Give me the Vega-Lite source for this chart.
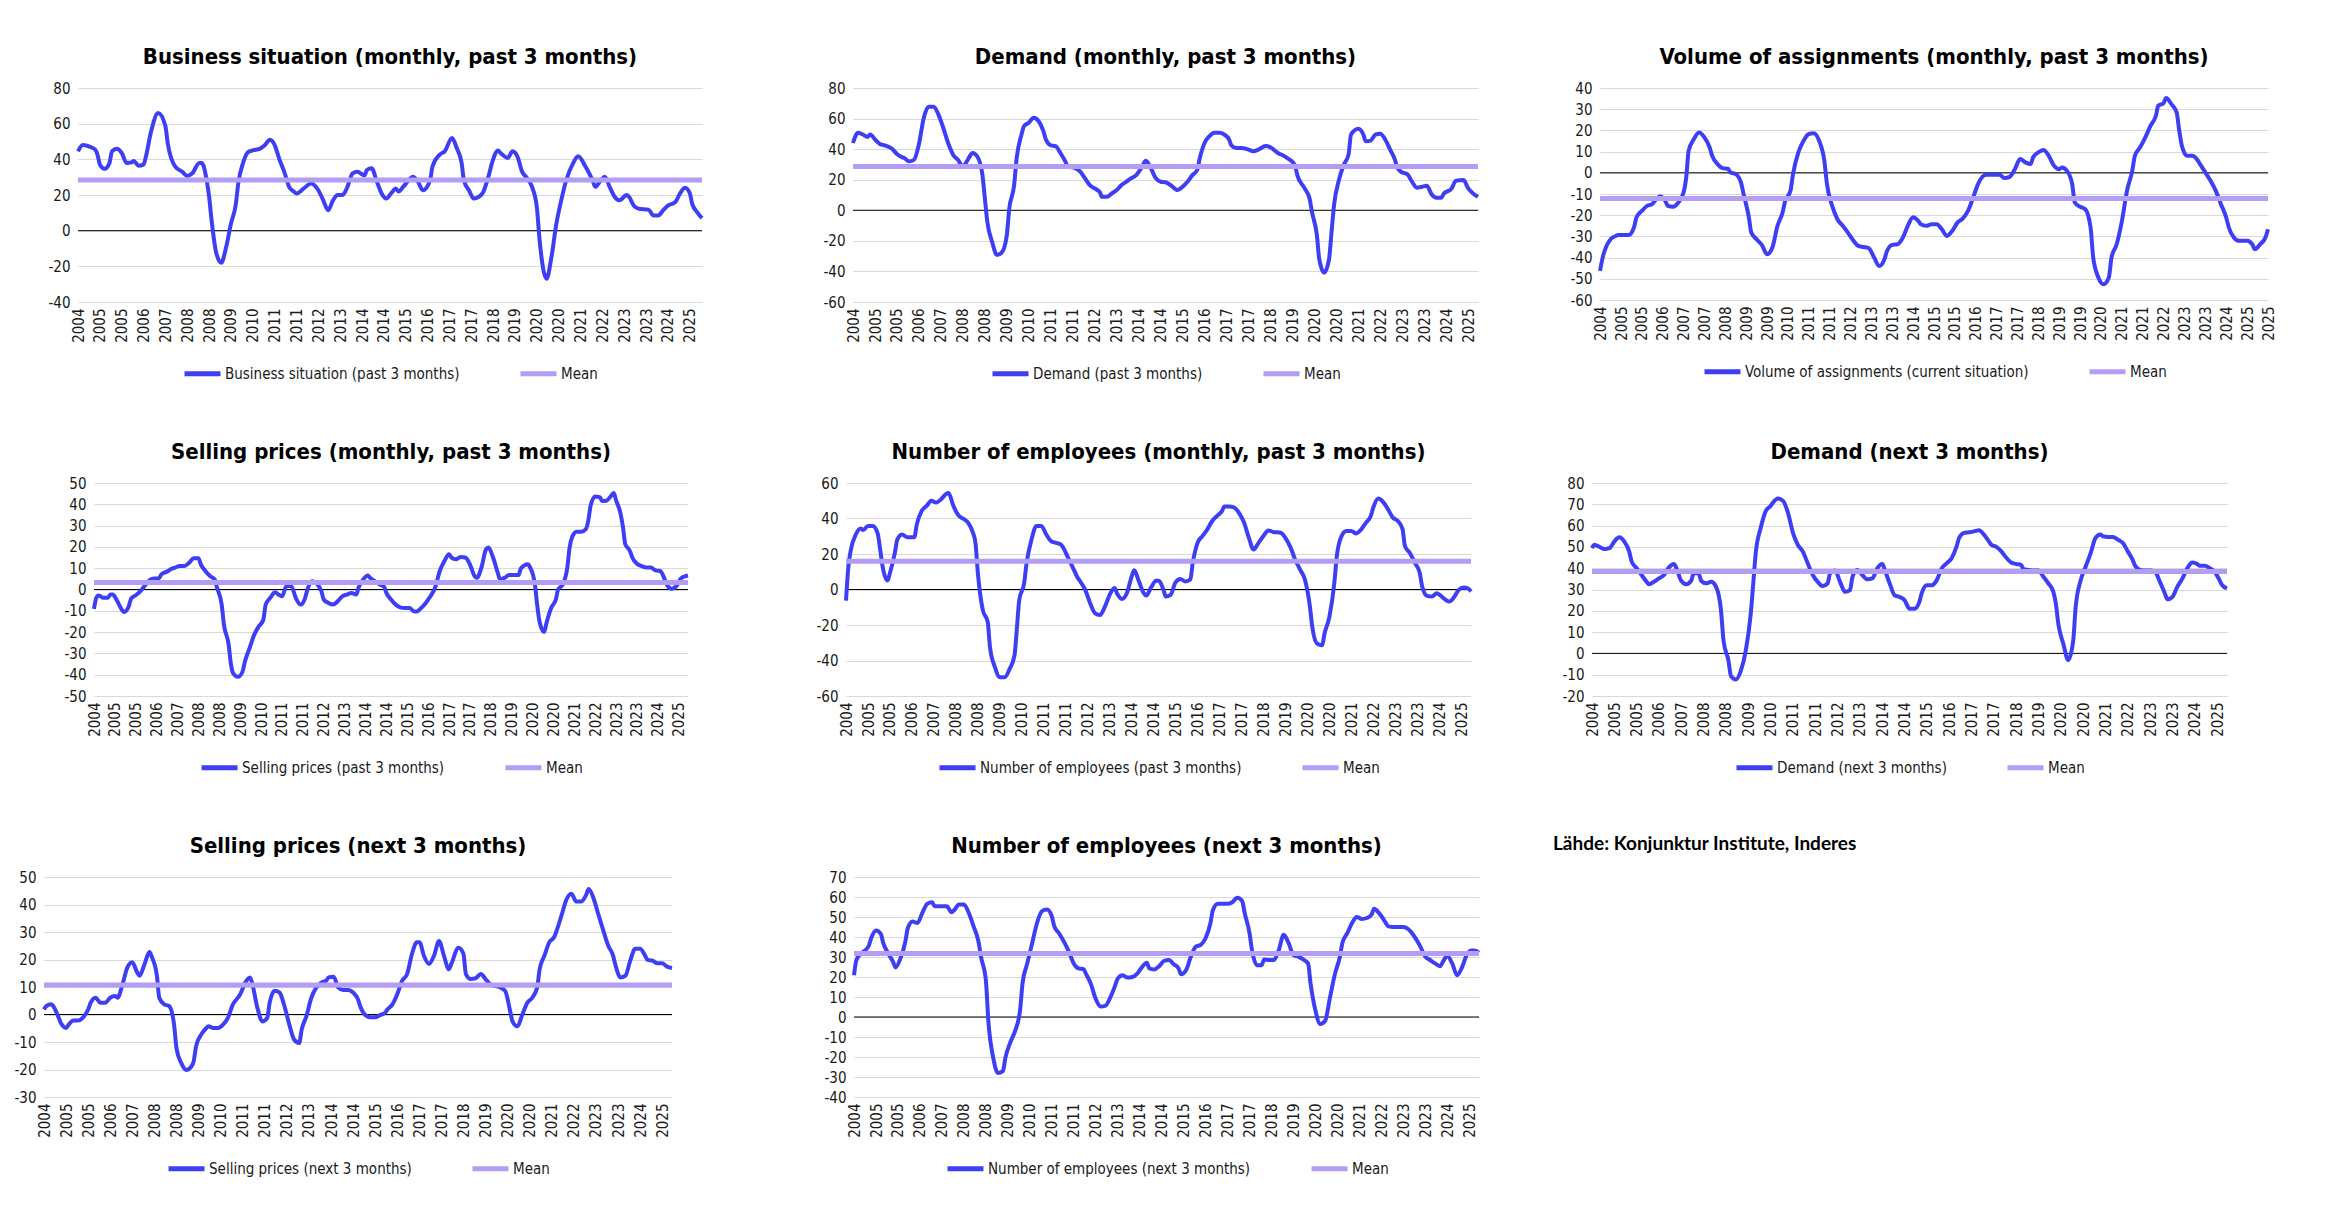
{
"$schema":"https://vega.github.io/schema/vega-lite/v6.json",
"background":"white",
"padding":{"left":5,"top":46,"right":5,"bottom":5},
"datasets":{
"means":[{"p":"bs","s":"Mean","v":28.4},{"p":"dm","s":"Mean","v":28.7},{"p":"va","s":"Mean","v":-12.1},{"p":"sp","s":"Mean","v":3.3},{"p":"ne","s":"Mean","v":15.9},{"p":"dn","s":"Mean","v":38.5},{"p":"spn","s":"Mean","v":10.7},{"p":"nen","s":"Mean","v":31.8}],
"bs":[{"d":"2004-04","v":44.5},{"d":"2004-06","v":48},{"d":"2004-09","v":47},{"d":"2004-11","v":45.5},{"d":"2004-12","v":42.7},{"d":"2005-01","v":37},{"d":"2005-03","v":34.7},{"d":"2005-05","v":38},{"d":"2005-06","v":44.5},{"d":"2005-08","v":46},{"d":"2005-10","v":43.6},{"d":"2005-12","v":38},{"d":"2006-02","v":38.3},{"d":"2006-03","v":39},{"d":"2006-05","v":36.4},{"d":"2006-07","v":37},{"d":"2006-08","v":41.7},{"d":"2006-10","v":55},{"d":"2007-01","v":66},{"d":"2007-04","v":58.8},{"d":"2007-05","v":49},{"d":"2007-08","v":36},{"d":"2007-11","v":33},{"d":"2008-01","v":30.7},{"d":"2008-03","v":32},{"d":"2008-06","v":38},{"d":"2008-07","v":38},{"d":"2008-09","v":28},{"d":"2008-10","v":19},{"d":"2008-11","v":5.7},{"d":"2009-01","v":-13},{"d":"2009-03","v":-18},{"d":"2009-05","v":-9.5},{"d":"2009-07","v":3.8},{"d":"2009-09","v":15},{"d":"2009-10","v":26.5},{"d":"2009-12","v":38},{"d":"2010-02","v":44},{"d":"2010-04","v":45},{"d":"2010-07","v":46},{"d":"2010-09","v":48},{"d":"2010-11","v":51},{"d":"2011-01","v":48},{"d":"2011-03","v":40},{"d":"2011-05","v":33},{"d":"2011-07","v":24.6},{"d":"2011-09","v":21.8},{"d":"2011-10","v":20.8},{"d":"2012-01","v":23.7},{"d":"2012-04","v":26.5},{"d":"2012-07","v":22.7},{"d":"2012-09","v":17},{"d":"2012-11","v":11.4},{"d":"2013-01","v":17},{"d":"2013-03","v":20},{"d":"2013-05","v":20},{"d":"2013-07","v":24.6},{"d":"2013-09","v":32},{"d":"2013-11","v":33},{"d":"2014-02","v":31},{"d":"2014-03","v":34},{"d":"2014-05","v":35},{"d":"2014-07","v":28},{"d":"2014-09","v":21},{"d":"2014-11","v":18},{"d":"2015-01","v":21},{"d":"2015-03","v":23.7},{"d":"2015-04","v":22},{"d":"2015-06","v":24.6},{"d":"2015-10","v":30.3},{"d":"2015-12","v":27.5},{"d":"2016-02","v":22.7},{"d":"2016-05","v":28},{"d":"2016-06","v":36},{"d":"2016-09","v":42.7},{"d":"2016-11","v":44.5},{"d":"2017-02","v":52},{"d":"2017-04","v":46.4},{"d":"2017-06","v":38},{"d":"2017-07","v":28},{"d":"2017-09","v":22.7},{"d":"2017-11","v":18},{"d":"2018-01","v":19},{"d":"2018-03","v":21.8},{"d":"2018-05","v":30},{"d":"2018-07","v":40},{"d":"2018-09","v":45},{"d":"2018-10","v":43.6},{"d":"2019-01","v":40.8},{"d":"2019-03","v":44.5},{"d":"2019-05","v":41.7},{"d":"2019-07","v":33},{"d":"2019-09","v":29.4},{"d":"2019-11","v":24.6},{"d":"2020-01","v":13},{"d":"2020-02","v":-3.8},{"d":"2020-05","v":-27},{"d":"2020-07","v":-15},{"d":"2020-09","v":3.8},{"d":"2020-11","v":17},{"d":"2021-01","v":28},{"d":"2021-04","v":38},{"d":"2021-06","v":41.7},{"d":"2021-09","v":36},{"d":"2021-12","v":28},{"d":"2022-01","v":24.6},{"d":"2022-03","v":27.5},{"d":"2022-05","v":30.3},{"d":"2022-07","v":24.6},{"d":"2022-09","v":19},{"d":"2022-11","v":17},{"d":"2023-02","v":20},{"d":"2023-03","v":19},{"d":"2023-05","v":14},{"d":"2023-07","v":12.3},{"d":"2023-11","v":11.8},{"d":"2024-01","v":8.5},{"d":"2024-03","v":8.5},{"d":"2024-05","v":11.4},{"d":"2024-07","v":14},{"d":"2024-10","v":16},{"d":"2024-12","v":21},{"d":"2025-02","v":24},{"d":"2025-04","v":21},{"d":"2025-05","v":15},{"d":"2025-07","v":10.4},{"d":"2025-09","v":7}],
"dm":[{"d":"2004-04","v":44},{"d":"2004-05","v":48.5},{"d":"2004-06","v":50.7},{"d":"2004-08","v":49.6},{"d":"2004-10","v":48},{"d":"2004-11","v":49.6},{"d":"2005-01","v":46.3},{"d":"2005-03","v":43.4},{"d":"2005-05","v":42.5},{"d":"2005-08","v":40.3},{"d":"2005-10","v":36.8},{"d":"2005-12","v":34.8},{"d":"2006-01","v":34.2},{"d":"2006-03","v":32},{"d":"2006-05","v":33},{"d":"2006-07","v":43},{"d":"2006-09","v":60.6},{"d":"2006-11","v":67.7},{"d":"2007-01","v":67.7},{"d":"2007-03","v":62.8},{"d":"2007-05","v":54},{"d":"2007-07","v":44},{"d":"2007-09","v":36.4},{"d":"2007-11","v":33},{"d":"2008-01","v":28.7},{"d":"2008-03","v":33},{"d":"2008-05","v":37.5},{"d":"2008-07","v":35},{"d":"2008-09","v":23},{"d":"2008-10","v":7.7},{"d":"2008-11","v":-7.7},{"d":"2009-01","v":-21},{"d":"2009-03","v":-29.3},{"d":"2009-05","v":-27.6},{"d":"2009-07","v":-16.5},{"d":"2009-08","v":1.1},{"d":"2009-10","v":16.5},{"d":"2009-11","v":34},{"d":"2010-01","v":49.6},{"d":"2010-02","v":55},{"d":"2010-04","v":57.3},{"d":"2010-06","v":60.6},{"d":"2010-08","v":58.4},{"d":"2010-10","v":51.8},{"d":"2010-11","v":46.3},{"d":"2011-01","v":42.5},{"d":"2011-03","v":42},{"d":"2011-05","v":37.5},{"d":"2011-07","v":32},{"d":"2011-08","v":28.7},{"d":"2011-11","v":27.6},{"d":"2012-01","v":25.4},{"d":"2012-03","v":21},{"d":"2012-05","v":16.5},{"d":"2012-07","v":14.3},{"d":"2012-09","v":12},{"d":"2012-10","v":8.8},{"d":"2012-12","v":8.8},{"d":"2013-02","v":11},{"d":"2013-04","v":13.2},{"d":"2013-06","v":16.5},{"d":"2013-08","v":18.7},{"d":"2013-10","v":21},{"d":"2013-12","v":23},{"d":"2014-02","v":27.6},{"d":"2014-04","v":32.4},{"d":"2014-06","v":27.6},{"d":"2014-08","v":21},{"d":"2014-10","v":18.7},{"d":"2014-12","v":18.3},{"d":"2015-02","v":16.5},{"d":"2015-05","v":13.2},{"d":"2015-07","v":15.4},{"d":"2015-09","v":18.7},{"d":"2015-11","v":23},{"d":"2016-01","v":26.5},{"d":"2016-02","v":34},{"d":"2016-04","v":44},{"d":"2016-06","v":48.5},{"d":"2016-08","v":50.7},{"d":"2016-10","v":50.7},{"d":"2016-12","v":49.6},{"d":"2017-02","v":46.3},{"d":"2017-03","v":42.5},{"d":"2017-05","v":40.8},{"d":"2017-07","v":40.8},{"d":"2017-10","v":39.7},{"d":"2017-12","v":38.6},{"d":"2018-02","v":39.7},{"d":"2018-05","v":42},{"d":"2018-07","v":41.2},{"d":"2018-10","v":37.5},{"d":"2018-12","v":36},{"d":"2019-02","v":34},{"d":"2019-05","v":29.8},{"d":"2019-06","v":23},{"d":"2019-09","v":14.3},{"d":"2019-11","v":7.7},{"d":"2019-12","v":-1.1},{"d":"2020-02","v":-16.5},{"d":"2020-03","v":-32},{"d":"2020-05","v":-40.8},{"d":"2020-07","v":-32},{"d":"2020-08","v":-14.3},{"d":"2020-09","v":3.3},{"d":"2020-11","v":19.8},{"d":"2021-01","v":29.8},{"d":"2021-03","v":36.4},{"d":"2021-04","v":49.6},{"d":"2021-07","v":53.4},{"d":"2021-09","v":49.6},{"d":"2021-10","v":45.2},{"d":"2021-12","v":45.6},{"d":"2022-02","v":49.6},{"d":"2022-04","v":50},{"d":"2022-06","v":46.3},{"d":"2022-08","v":39.7},{"d":"2022-10","v":33},{"d":"2022-11","v":27.6},{"d":"2023-01","v":24.7},{"d":"2023-03","v":23.8},{"d":"2023-05","v":18.7},{"d":"2023-07","v":14.8},{"d":"2023-09","v":15.4},{"d":"2023-11","v":16},{"d":"2024-01","v":10.4},{"d":"2024-03","v":8.2},{"d":"2024-05","v":8.2},{"d":"2024-06","v":11},{"d":"2024-09","v":13.9},{"d":"2024-11","v":19.4},{"d":"2025-02","v":19.8},{"d":"2025-04","v":14.3},{"d":"2025-06","v":11},{"d":"2025-08","v":8.8}],
"va":[{"d":"2004-05","v":-46.3},{"d":"2004-06","v":-40},{"d":"2004-07","v":-36},{"d":"2004-09","v":-31.3},{"d":"2004-11","v":-29.8},{"d":"2004-12","v":-29.3},{"d":"2005-02","v":-29.3},{"d":"2005-04","v":-29.3},{"d":"2005-06","v":-25.8},{"d":"2005-07","v":-21},{"d":"2005-09","v":-18},{"d":"2005-11","v":-15.6},{"d":"2006-01","v":-14.8},{"d":"2006-02","v":-13.2},{"d":"2006-04","v":-11.2},{"d":"2006-06","v":-13.2},{"d":"2006-07","v":-15.6},{"d":"2006-09","v":-16},{"d":"2006-11","v":-14},{"d":"2007-01","v":-9.3},{"d":"2007-02","v":-2.2},{"d":"2007-03","v":10.4},{"d":"2007-05","v":15.9},{"d":"2007-07","v":19},{"d":"2007-09","v":16.7},{"d":"2007-11","v":12},{"d":"2007-12","v":8},{"d":"2008-02","v":4.1},{"d":"2008-04","v":2.2},{"d":"2008-06","v":1.9},{"d":"2008-07","v":0.2},{"d":"2008-09","v":-0.6},{"d":"2008-11","v":-4.6},{"d":"2008-12","v":-10},{"d":"2009-02","v":-21},{"d":"2009-03","v":-28.2},{"d":"2009-05","v":-31.3},{"d":"2009-07","v":-34},{"d":"2009-09","v":-38.4},{"d":"2009-11","v":-35.3},{"d":"2010-01","v":-25},{"d":"2010-03","v":-18.7},{"d":"2010-04","v":-13.2},{"d":"2010-06","v":-8.5},{"d":"2010-07","v":-0.6},{"d":"2010-09","v":9.6},{"d":"2010-11","v":15.1},{"d":"2011-01","v":18.3},{"d":"2011-03","v":18.6},{"d":"2011-05","v":15.1},{"d":"2011-07","v":5.7},{"d":"2011-08","v":-5.4},{"d":"2011-10","v":-15.6},{"d":"2011-12","v":-21.9},{"d":"2012-02","v":-25},{"d":"2012-04","v":-28.2},{"d":"2012-06","v":-31.8},{"d":"2012-08","v":-34.5},{"d":"2012-10","v":-35},{"d":"2012-12","v":-35.6},{"d":"2013-02","v":-40},{"d":"2013-04","v":-44},{"d":"2013-06","v":-40.8},{"d":"2013-07","v":-36.9},{"d":"2013-09","v":-34},{"d":"2013-11","v":-33.7},{"d":"2014-01","v":-30.6},{"d":"2014-03","v":-25},{"d":"2014-05","v":-21},{"d":"2014-07","v":-22.7},{"d":"2014-08","v":-24.3},{"d":"2014-10","v":-25},{"d":"2014-12","v":-24.3},{"d":"2015-02","v":-24.3},{"d":"2015-04","v":-26.6},{"d":"2015-06","v":-29.8},{"d":"2015-08","v":-27.4},{"d":"2015-10","v":-23.5},{"d":"2015-12","v":-21.6},{"d":"2016-02","v":-18},{"d":"2016-04","v":-11.7},{"d":"2016-06","v":-5},{"d":"2016-08","v":-1.4},{"d":"2016-09","v":-0.9},{"d":"2016-12","v":-0.9},{"d":"2017-02","v":-0.9},{"d":"2017-04","v":-2.5},{"d":"2017-06","v":-1.9},{"d":"2017-08","v":1.7},{"d":"2017-10","v":6.5},{"d":"2017-12","v":4.9},{"d":"2018-02","v":4.1},{"d":"2018-03","v":7.2},{"d":"2018-05","v":9.6},{"d":"2018-07","v":10.7},{"d":"2018-09","v":8},{"d":"2018-11","v":3.3},{"d":"2019-01","v":1.7},{"d":"2019-02","v":2.5},{"d":"2019-04","v":0.9},{"d":"2019-06","v":-5.4},{"d":"2019-07","v":-14},{"d":"2019-09","v":-16},{"d":"2019-11","v":-17.2},{"d":"2020-01","v":-25.8},{"d":"2020-02","v":-40},{"d":"2020-04","v":-49.4},{"d":"2020-06","v":-52.6},{"d":"2020-08","v":-49.4},{"d":"2020-09","v":-40},{"d":"2020-11","v":-33.7},{"d":"2021-01","v":-22.7},{"d":"2021-03","v":-8.5},{"d":"2021-05","v":0.9},{"d":"2021-06","v":8},{"d":"2021-08","v":12},{"d":"2021-10","v":16.7},{"d":"2021-12","v":22.2},{"d":"2022-02","v":26.9},{"d":"2022-03","v":31.7},{"d":"2022-05","v":32.8},{"d":"2022-06","v":35.3},{"d":"2022-08","v":32.4},{"d":"2022-10","v":28.5},{"d":"2022-11","v":19.8},{"d":"2022-12","v":12.8},{"d":"2023-02","v":8},{"d":"2023-04","v":8},{"d":"2023-06","v":6},{"d":"2023-07","v":4.1},{"d":"2023-09","v":0.2},{"d":"2023-11","v":-3.8},{"d":"2024-01","v":-8.5},{"d":"2024-03","v":-14.8},{"d":"2024-05","v":-21},{"d":"2024-06","v":-25.8},{"d":"2024-08","v":-30.6},{"d":"2024-10","v":-32.1},{"d":"2025-01","v":-32.1},{"d":"2025-03","v":-33.7},{"d":"2025-04","v":-36},{"d":"2025-06","v":-33.7},{"d":"2025-08","v":-30.6},{"d":"2025-09","v":-26.6}],
"sp":[{"d":"2004-04","v":-9.1},{"d":"2004-05","v":-3.9},{"d":"2004-06","v":-2.8},{"d":"2004-08","v":-3.9},{"d":"2004-10","v":-3.9},{"d":"2004-11","v":-2.4},{"d":"2004-12","v":-2.4},{"d":"2005-02","v":-5.5},{"d":"2005-04","v":-9.5},{"d":"2005-05","v":-10.6},{"d":"2005-07","v":-7.9},{"d":"2005-08","v":-4.3},{"d":"2005-10","v":-2.7},{"d":"2005-12","v":-0.8},{"d":"2006-02","v":2},{"d":"2006-04","v":4.4},{"d":"2006-06","v":5.2},{"d":"2006-08","v":5.2},{"d":"2006-09","v":7.1},{"d":"2006-12","v":8.7},{"d":"2007-01","v":9.5},{"d":"2007-03","v":10.3},{"d":"2007-05","v":11},{"d":"2007-07","v":11},{"d":"2007-09","v":12.6},{"d":"2007-11","v":14.7},{"d":"2008-01","v":14.7},{"d":"2008-02","v":11.8},{"d":"2008-04","v":8.7},{"d":"2008-06","v":6.3},{"d":"2008-08","v":4.7},{"d":"2008-09","v":0.8},{"d":"2008-11","v":-7.1},{"d":"2008-12","v":-16.6},{"d":"2009-02","v":-26},{"d":"2009-03","v":-34.7},{"d":"2009-04","v":-39.4},{"d":"2009-06","v":-41},{"d":"2009-08","v":-38.6},{"d":"2009-09","v":-33.9},{"d":"2009-11","v":-27.6},{"d":"2010-01","v":-21.3},{"d":"2010-03","v":-17.4},{"d":"2010-05","v":-14.2},{"d":"2010-06","v":-7.1},{"d":"2010-08","v":-3.9},{"d":"2010-10","v":-1.3},{"d":"2010-12","v":-2.7},{"d":"2011-01","v":-3.2},{"d":"2011-03","v":1.6},{"d":"2011-05","v":1.6},{"d":"2011-07","v":-3.9},{"d":"2011-09","v":-7.1},{"d":"2011-11","v":-3.9},{"d":"2011-12","v":0},{"d":"2012-02","v":3.9},{"d":"2012-04","v":2.7},{"d":"2012-06","v":-0.8},{"d":"2012-07","v":-4.7},{"d":"2012-09","v":-6.3},{"d":"2012-11","v":-7.1},{"d":"2013-01","v":-5.5},{"d":"2013-03","v":-3.2},{"d":"2013-05","v":-2.4},{"d":"2013-07","v":-1.6},{"d":"2013-09","v":-2.4},{"d":"2013-10","v":0.8},{"d":"2013-12","v":4.7},{"d":"2014-02","v":6.6},{"d":"2014-03","v":5.5},{"d":"2014-05","v":3.9},{"d":"2014-07","v":2.4},{"d":"2014-09","v":1.3},{"d":"2014-10","v":-1.6},{"d":"2014-12","v":-4.7},{"d":"2015-02","v":-7.1},{"d":"2015-04","v":-8.4},{"d":"2015-06","v":-8.7},{"d":"2015-08","v":-8.7},{"d":"2015-10","v":-10.3},{"d":"2015-11","v":-10.3},{"d":"2016-01","v":-8.7},{"d":"2016-03","v":-6.3},{"d":"2016-05","v":-3.2},{"d":"2016-07","v":0.8},{"d":"2016-09","v":8.7},{"d":"2016-11","v":13.4},{"d":"2017-01","v":16.6},{"d":"2017-02","v":15},{"d":"2017-04","v":14.2},{"d":"2017-06","v":15.3},{"d":"2017-08","v":15},{"d":"2017-10","v":11.8},{"d":"2017-12","v":6.3},{"d":"2018-01","v":5.5},{"d":"2018-03","v":10.3},{"d":"2018-05","v":18.9},{"d":"2018-06","v":19.7},{"d":"2018-08","v":15},{"d":"2018-10","v":7.9},{"d":"2018-11","v":4.7},{"d":"2019-01","v":5.5},{"d":"2019-03","v":6.8},{"d":"2019-05","v":6.8},{"d":"2019-07","v":6.8},{"d":"2019-08","v":9.9},{"d":"2019-11","v":11.8},{"d":"2019-12","v":10.3},{"d":"2020-02","v":2.4},{"d":"2020-03","v":-7.1},{"d":"2020-04","v":-15},{"d":"2020-06","v":-20},{"d":"2020-07","v":-15.8},{"d":"2020-09","v":-8.7},{"d":"2020-11","v":-4.7},{"d":"2020-12","v":0},{"d":"2021-02","v":2.4},{"d":"2021-04","v":10.3},{"d":"2021-05","v":19.7},{"d":"2021-06","v":24.4},{"d":"2021-08","v":27.1},{"d":"2021-10","v":27.1},{"d":"2021-12","v":28.4},{"d":"2022-01","v":32.3},{"d":"2022-02","v":39.4},{"d":"2022-04","v":43.7},{"d":"2022-06","v":43.4},{"d":"2022-07","v":41.5},{"d":"2022-09","v":41.8},{"d":"2022-11","v":44.2},{"d":"2022-12","v":45.3},{"d":"2023-01","v":41.8},{"d":"2023-03","v":35.5},{"d":"2023-04","v":29.2},{"d":"2023-05","v":21.3},{"d":"2023-07","v":18.1},{"d":"2023-08","v":15},{"d":"2023-10","v":12.1},{"d":"2023-12","v":11},{"d":"2024-02","v":10.3},{"d":"2024-04","v":10.3},{"d":"2024-06","v":9},{"d":"2024-08","v":8.7},{"d":"2024-10","v":4.7},{"d":"2024-11","v":2},{"d":"2025-01","v":0.3},{"d":"2025-03","v":1.6},{"d":"2025-05","v":5.2},{"d":"2025-07","v":6.3},{"d":"2025-08","v":6.6}],
"ne":[{"d":"2004-04","v":-6.2},{"d":"2004-05","v":13},{"d":"2004-06","v":22.5},{"d":"2004-08","v":31},{"d":"2004-10","v":34.3},{"d":"2004-11","v":33.5},{"d":"2005-01","v":35.8},{"d":"2005-03","v":35.8},{"d":"2005-05","v":31.6},{"d":"2005-06","v":22.5},{"d":"2005-07","v":13},{"d":"2005-09","v":5.1},{"d":"2005-10","v":9.3},{"d":"2005-12","v":20.6},{"d":"2006-01","v":28.2},{"d":"2006-03","v":31},{"d":"2006-05","v":29.5},{"d":"2006-08","v":29.5},{"d":"2006-09","v":36.7},{"d":"2006-11","v":44.3},{"d":"2007-01","v":47.1},{"d":"2007-03","v":50},{"d":"2007-05","v":49},{"d":"2007-07","v":50.9},{"d":"2007-09","v":53.8},{"d":"2007-10","v":54.3},{"d":"2007-12","v":47.1},{"d":"2008-02","v":41.8},{"d":"2008-04","v":39.9},{"d":"2008-06","v":37.7},{"d":"2008-08","v":32},{"d":"2008-09","v":26.3},{"d":"2008-10","v":9.3},{"d":"2008-12","v":-11.5},{"d":"2009-02","v":-18.2},{"d":"2009-03","v":-32.4},{"d":"2009-05","v":-43.7},{"d":"2009-07","v":-49.4},{"d":"2009-09","v":-49.4},{"d":"2009-11","v":-44.7},{"d":"2010-01","v":-37.1},{"d":"2010-02","v":-21},{"d":"2010-03","v":-5.9},{"d":"2010-05","v":3.6},{"d":"2010-06","v":15},{"d":"2010-08","v":28.2},{"d":"2010-10","v":35.8},{"d":"2010-12","v":35.8},{"d":"2011-02","v":31},{"d":"2011-04","v":27.3},{"d":"2011-06","v":26.3},{"d":"2011-08","v":25.4},{"d":"2011-09","v":23.5},{"d":"2011-11","v":17.8},{"d":"2012-01","v":12.1},{"d":"2012-03","v":6.4},{"d":"2012-04","v":4.5},{"d":"2012-06","v":-0.2},{"d":"2012-08","v":-7.8},{"d":"2012-10","v":-13.4},{"d":"2012-12","v":-14.4},{"d":"2013-02","v":-9.7},{"d":"2013-04","v":-3},{"d":"2013-06","v":0.8},{"d":"2013-07","v":-2.1},{"d":"2013-09","v":-5.3},{"d":"2013-11","v":-2.1},{"d":"2014-01","v":7.4},{"d":"2014-02","v":10.8},{"d":"2014-04","v":4.5},{"d":"2014-06","v":-2.1},{"d":"2014-07","v":-3.4},{"d":"2014-09","v":1.3},{"d":"2014-11","v":4.9},{"d":"2014-12","v":4.9},{"d":"2015-02","v":-0.2},{"d":"2015-03","v":-4},{"d":"2015-05","v":-3},{"d":"2015-07","v":4},{"d":"2015-09","v":5.9},{"d":"2015-11","v":4.5},{"d":"2016-01","v":5.5},{"d":"2016-02","v":15},{"d":"2016-04","v":26.3},{"d":"2016-06","v":30.1},{"d":"2016-08","v":33.9},{"d":"2016-10","v":38.6},{"d":"2016-12","v":41.5},{"d":"2017-02","v":44.3},{"d":"2017-03","v":46.8},{"d":"2017-05","v":46.8},{"d":"2017-07","v":46.2},{"d":"2017-09","v":43},{"d":"2017-11","v":37.7},{"d":"2018-01","v":29.1},{"d":"2018-03","v":22.5},{"d":"2018-05","v":26.3},{"d":"2018-07","v":30.1},{"d":"2018-09","v":33.3},{"d":"2018-11","v":32.4},{"d":"2019-02","v":32},{"d":"2019-04","v":29.1},{"d":"2019-06","v":24},{"d":"2019-08","v":16.8},{"d":"2019-10","v":11.2},{"d":"2019-12","v":5.5},{"d":"2020-02","v":-9.7},{"d":"2020-03","v":-21},{"d":"2020-05","v":-30.5},{"d":"2020-07","v":-31.4},{"d":"2020-08","v":-24.8},{"d":"2020-10","v":-15.3},{"d":"2020-12","v":3.6},{"d":"2021-01","v":18.7},{"d":"2021-03","v":30.1},{"d":"2021-05","v":32.9},{"d":"2021-07","v":32.9},{"d":"2021-09","v":31.6},{"d":"2021-11","v":33.9},{"d":"2022-01","v":37.7},{"d":"2022-03","v":41.5},{"d":"2022-04","v":46.2},{"d":"2022-06","v":51.3},{"d":"2022-08","v":49.4},{"d":"2022-10","v":45.2},{"d":"2022-12","v":40.5},{"d":"2023-02","v":38.6},{"d":"2023-04","v":33.9},{"d":"2023-05","v":24.4},{"d":"2023-07","v":20.6},{"d":"2023-09","v":15},{"d":"2023-11","v":9.3},{"d":"2023-12","v":1.7},{"d":"2024-02","v":-3.6},{"d":"2024-04","v":-4},{"d":"2024-06","v":-2.1},{"d":"2024-08","v":-4},{"d":"2024-10","v":-6.2},{"d":"2024-11","v":-6.8},{"d":"2025-01","v":-4.4},{"d":"2025-03","v":-0.2},{"d":"2025-05","v":1.1},{"d":"2025-07","v":0.4},{"d":"2025-08","v":-1.1}],
"dn":[{"d":"2004-04","v":49.4},{"d":"2004-05","v":51},{"d":"2004-07","v":50},{"d":"2004-09","v":49},{"d":"2004-11","v":49.4},{"d":"2005-01","v":52.6},{"d":"2005-03","v":54.5},{"d":"2005-05","v":52.6},{"d":"2005-07","v":47.9},{"d":"2005-08","v":43.1},{"d":"2005-10","v":40},{"d":"2005-12","v":36.8},{"d":"2006-02","v":33.6},{"d":"2006-03","v":32.5},{"d":"2006-05","v":33.6},{"d":"2006-07","v":35.2},{"d":"2006-09","v":36.8},{"d":"2006-11","v":40.4},{"d":"2007-01","v":42},{"d":"2007-02","v":40},{"d":"2007-04","v":34.1},{"d":"2007-06","v":32.5},{"d":"2007-08","v":34.1},{"d":"2007-09","v":37.6},{"d":"2007-11","v":37.6},{"d":"2007-12","v":34.1},{"d":"2008-02","v":32.9},{"d":"2008-04","v":33.6},{"d":"2008-06","v":31.3},{"d":"2008-08","v":20.2},{"d":"2008-09","v":6},{"d":"2008-11","v":-3.5},{"d":"2008-12","v":-10.6},{"d":"2009-02","v":-12.2},{"d":"2009-04","v":-8.2},{"d":"2009-06","v":1.3},{"d":"2009-08","v":18.6},{"d":"2009-09","v":32.9},{"d":"2009-10","v":47.1},{"d":"2009-12","v":58.9},{"d":"2010-02","v":66.8},{"d":"2010-04","v":69.2},{"d":"2010-05","v":70.8},{"d":"2010-07","v":72.7},{"d":"2010-09","v":71.6},{"d":"2010-11","v":66},{"d":"2011-01","v":56.6},{"d":"2011-03","v":51},{"d":"2011-05","v":47.9},{"d":"2011-07","v":42.3},{"d":"2011-09","v":36.8},{"d":"2011-11","v":33.6},{"d":"2012-01","v":31.6},{"d":"2012-03","v":32.9},{"d":"2012-04","v":37.6},{"d":"2012-06","v":38.9},{"d":"2012-08","v":33.6},{"d":"2012-10","v":28.9},{"d":"2012-12","v":29.7},{"d":"2013-01","v":36},{"d":"2013-03","v":39.2},{"d":"2013-05","v":36.8},{"d":"2013-07","v":34.8},{"d":"2013-09","v":35.2},{"d":"2013-11","v":40},{"d":"2014-01","v":42},{"d":"2014-02","v":39.2},{"d":"2014-04","v":32.9},{"d":"2014-06","v":27.3},{"d":"2014-08","v":26.5},{"d":"2014-10","v":25},{"d":"2014-12","v":21},{"d":"2015-02","v":21},{"d":"2015-04","v":24.2},{"d":"2015-05","v":28.4},{"d":"2015-07","v":32},{"d":"2015-09","v":32},{"d":"2015-11","v":34.4},{"d":"2016-01","v":40},{"d":"2016-03","v":42.3},{"d":"2016-05","v":44.7},{"d":"2016-07","v":50.2},{"d":"2016-08","v":54.2},{"d":"2016-10","v":56.6},{"d":"2016-12","v":56.9},{"d":"2017-02","v":57.3},{"d":"2017-04","v":57.8},{"d":"2017-06","v":55.8},{"d":"2017-08","v":52.6},{"d":"2017-09","v":51},{"d":"2017-11","v":50},{"d":"2018-01","v":47.9},{"d":"2018-03","v":45},{"d":"2018-05","v":42.7},{"d":"2018-07","v":42},{"d":"2018-09","v":41.5},{"d":"2018-10","v":39.5},{"d":"2018-12","v":39.2},{"d":"2019-02","v":38.9},{"d":"2019-04","v":38.9},{"d":"2019-06","v":36},{"d":"2019-08","v":32.9},{"d":"2019-10","v":28.9},{"d":"2019-11","v":23.4},{"d":"2019-12","v":13.9},{"d":"2020-02","v":4.4},{"d":"2020-04","v":-3.2},{"d":"2020-06","v":6},{"d":"2020-07","v":21.8},{"d":"2020-09","v":34.4},{"d":"2020-11","v":40.8},{"d":"2021-01","v":47.1},{"d":"2021-03","v":54.2},{"d":"2021-05","v":55.8},{"d":"2021-06","v":55},{"d":"2021-08","v":54.7},{"d":"2021-10","v":54.7},{"d":"2021-12","v":53.4},{"d":"2022-02","v":51.8},{"d":"2022-04","v":47.9},{"d":"2022-06","v":43.9},{"d":"2022-07","v":41.1},{"d":"2022-09","v":39.2},{"d":"2022-11","v":38.9},{"d":"2023-01","v":38.9},{"d":"2023-03","v":38.4},{"d":"2023-05","v":33.6},{"d":"2023-07","v":28.1},{"d":"2023-08","v":25.4},{"d":"2023-10","v":26.5},{"d":"2023-12","v":31.3},{"d":"2024-02","v":35.2},{"d":"2024-04","v":40},{"d":"2024-06","v":42.7},{"d":"2024-08","v":42},{"d":"2024-09","v":41.1},{"d":"2024-11","v":41.1},{"d":"2025-01","v":40},{"d":"2025-03","v":38.4},{"d":"2025-05","v":34.4},{"d":"2025-06","v":32.1},{"d":"2025-08","v":30.5}],
"spn":[{"d":"2004-04","v":1.8},{"d":"2004-05","v":3.1},{"d":"2004-07","v":3.7},{"d":"2004-08","v":2.7},{"d":"2004-10","v":-1.2},{"d":"2004-11","v":-3.4},{"d":"2005-01","v":-4.9},{"d":"2005-02","v":-3.7},{"d":"2005-04","v":-2.2},{"d":"2005-06","v":-2.2},{"d":"2005-08","v":-1},{"d":"2005-10","v":1.8},{"d":"2005-11","v":4.3},{"d":"2006-01","v":6.1},{"d":"2006-03","v":4.3},{"d":"2006-05","v":4.3},{"d":"2006-07","v":6.1},{"d":"2006-09","v":6.7},{"d":"2006-10","v":6.1},{"d":"2006-12","v":11},{"d":"2007-02","v":17.2},{"d":"2007-04","v":19},{"d":"2007-06","v":15.3},{"d":"2007-07","v":14.1},{"d":"2007-09","v":18.4},{"d":"2007-11","v":22.7},{"d":"2007-12","v":20.8},{"d":"2008-02","v":14.1},{"d":"2008-03","v":6.1},{"d":"2008-05","v":3.7},{"d":"2008-07","v":3.1},{"d":"2008-09","v":-3.7},{"d":"2008-10","v":-12.3},{"d":"2008-12","v":-17.8},{"d":"2009-02","v":-20.2},{"d":"2009-04","v":-19},{"d":"2009-05","v":-17.2},{"d":"2009-06","v":-11.6},{"d":"2009-08","v":-7.4},{"d":"2009-10","v":-5.1},{"d":"2009-11","v":-4.3},{"d":"2010-01","v":-4.9},{"d":"2010-03","v":-4.9},{"d":"2010-05","v":-3.7},{"d":"2010-07","v":-1.2},{"d":"2010-09","v":3.7},{"d":"2010-11","v":6.1},{"d":"2010-12","v":7.4},{"d":"2011-02","v":11.6},{"d":"2011-04","v":13.5},{"d":"2011-05","v":11},{"d":"2011-07","v":2.5},{"d":"2011-09","v":-2.5},{"d":"2011-11","v":-1.2},{"d":"2011-12","v":4.3},{"d":"2012-02","v":8.6},{"d":"2012-04","v":8},{"d":"2012-06","v":3.1},{"d":"2012-08","v":-3.7},{"d":"2012-10","v":-9.2},{"d":"2012-12","v":-10.4},{"d":"2013-01","v":-5.5},{"d":"2013-03","v":-0.6},{"d":"2013-05","v":6.1},{"d":"2013-07","v":9.8},{"d":"2013-09","v":11.6},{"d":"2013-11","v":12.3},{"d":"2013-12","v":13.5},{"d":"2014-02","v":13.7},{"d":"2014-04","v":9.8},{"d":"2014-06","v":8.9},{"d":"2014-08","v":8.9},{"d":"2014-10","v":8},{"d":"2014-12","v":5.5},{"d":"2015-01","v":2.7},{"d":"2015-03","v":-0.2},{"d":"2015-05","v":-1},{"d":"2015-07","v":-1},{"d":"2015-09","v":-0.2},{"d":"2015-11","v":0.6},{"d":"2015-12","v":1.8},{"d":"2016-02","v":3.7},{"d":"2016-04","v":7.4},{"d":"2016-06","v":12.3},{"d":"2016-08","v":14.7},{"d":"2016-10","v":22.1},{"d":"2016-12","v":26.3},{"d":"2017-01","v":26.3},{"d":"2017-03","v":21.1},{"d":"2017-05","v":18.4},{"d":"2017-07","v":21.4},{"d":"2017-09","v":26.7},{"d":"2017-11","v":21.4},{"d":"2018-01","v":16.5},{"d":"2018-02","v":18.4},{"d":"2018-05","v":24.3},{"d":"2018-07","v":22.1},{"d":"2018-08","v":14.7},{"d":"2018-10","v":12.9},{"d":"2018-12","v":13.2},{"d":"2019-02","v":14.7},{"d":"2019-04","v":12.9},{"d":"2019-06","v":11},{"d":"2019-08","v":10.4},{"d":"2019-10","v":9.8},{"d":"2019-12","v":8.6},{"d":"2020-02","v":1.2},{"d":"2020-03","v":-2.5},{"d":"2020-05","v":-4.3},{"d":"2020-07","v":0},{"d":"2020-09","v":4.3},{"d":"2020-11","v":6.1},{"d":"2021-01","v":9.8},{"d":"2021-02","v":16.5},{"d":"2021-04","v":21.4},{"d":"2021-06","v":26.3},{"d":"2021-08","v":28.2},{"d":"2021-09","v":30.6},{"d":"2021-11","v":36.2},{"d":"2022-01","v":41.9},{"d":"2022-03","v":43.9},{"d":"2022-05","v":41.1},{"d":"2022-07","v":41.1},{"d":"2022-09","v":43.5},{"d":"2022-10","v":45.6},{"d":"2022-12","v":42.3},{"d":"2023-02","v":36.2},{"d":"2023-04","v":30.6},{"d":"2023-06","v":25.1},{"d":"2023-08","v":21.4},{"d":"2023-09","v":17.8},{"d":"2023-11","v":13.5},{"d":"2024-01","v":14.1},{"d":"2024-03","v":19.6},{"d":"2024-05","v":23.9},{"d":"2024-07","v":23.9},{"d":"2024-09","v":21.4},{"d":"2024-10","v":19.9},{"d":"2024-12","v":19.6},{"d":"2025-02","v":18.6},{"d":"2025-04","v":18.6},{"d":"2025-06","v":17.4},{"d":"2025-08","v":16.9}],
"nen":[{"d":"2004-04","v":20.9},{"d":"2004-05","v":28.5},{"d":"2004-07","v":31.8},{"d":"2004-09","v":33.9},{"d":"2004-10","v":35.5},{"d":"2004-11","v":39.4},{"d":"2005-01","v":43.3},{"d":"2005-03","v":41.6},{"d":"2005-04","v":36.9},{"d":"2005-06","v":31.8},{"d":"2005-08","v":27.6},{"d":"2005-09","v":24.8},{"d":"2005-11","v":29.3},{"d":"2006-01","v":37.7},{"d":"2006-02","v":44.5},{"d":"2006-04","v":47.8},{"d":"2006-06","v":47},{"d":"2006-08","v":52.1},{"d":"2006-10","v":56.6},{"d":"2006-12","v":57.4},{"d":"2007-01","v":55.4},{"d":"2007-03","v":55.4},{"d":"2007-06","v":55.4},{"d":"2007-08","v":52.4},{"d":"2007-09","v":53.4},{"d":"2007-11","v":56.3},{"d":"2008-01","v":56.3},{"d":"2008-03","v":52.1},{"d":"2008-05","v":45.3},{"d":"2008-07","v":37.7},{"d":"2008-08","v":30.2},{"d":"2008-10","v":18.4},{"d":"2008-11","v":-1.9},{"d":"2009-01","v":-20.4},{"d":"2009-03","v":-28},{"d":"2009-05","v":-27.1},{"d":"2009-06","v":-20.4},{"d":"2009-08","v":-12.8},{"d":"2009-10","v":-6.9},{"d":"2009-12","v":3.2},{"d":"2010-01","v":16.7},{"d":"2010-03","v":26.8},{"d":"2010-05","v":36.9},{"d":"2010-07","v":47},{"d":"2010-09","v":52.9},{"d":"2010-11","v":53.7},{"d":"2011-01","v":50.4},{"d":"2011-02","v":45.3},{"d":"2011-04","v":41.9},{"d":"2011-06","v":37.7},{"d":"2011-08","v":32.7},{"d":"2011-10","v":26.8},{"d":"2011-12","v":24.3},{"d":"2012-02","v":23.9},{"d":"2012-03","v":21.7},{"d":"2012-05","v":16.7},{"d":"2012-07","v":9.1},{"d":"2012-09","v":5.2},{"d":"2012-11","v":5.7},{"d":"2013-01","v":9.9},{"d":"2013-03","v":15.8},{"d":"2013-04","v":19.2},{"d":"2013-06","v":20.9},{"d":"2013-08","v":19.7},{"d":"2013-10","v":20},{"d":"2013-12","v":21.7},{"d":"2014-02","v":25.1},{"d":"2014-04","v":27.1},{"d":"2014-05","v":24.3},{"d":"2014-07","v":23.8},{"d":"2014-09","v":25.4},{"d":"2014-11","v":28.1},{"d":"2015-01","v":28.5},{"d":"2015-03","v":26.4},{"d":"2015-05","v":24.3},{"d":"2015-06","v":21.4},{"d":"2015-08","v":23.4},{"d":"2015-10","v":30.2},{"d":"2015-12","v":35.2},{"d":"2016-02","v":36.1},{"d":"2016-04","v":39.4},{"d":"2016-06","v":47},{"d":"2016-07","v":53.4},{"d":"2016-09","v":56.6},{"d":"2016-11","v":56.6},{"d":"2017-01","v":56.6},{"d":"2017-03","v":57.4},{"d":"2017-05","v":59.6},{"d":"2017-07","v":58},{"d":"2017-08","v":52.1},{"d":"2017-10","v":41.9},{"d":"2017-11","v":33.5},{"d":"2018-01","v":25.9},{"d":"2018-03","v":25.9},{"d":"2018-04","v":28.8},{"d":"2018-06","v":28.5},{"d":"2018-08","v":28.5},{"d":"2018-10","v":33.5},{"d":"2018-12","v":41.1},{"d":"2019-02","v":36.9},{"d":"2019-04","v":31},{"d":"2019-06","v":30.2},{"d":"2019-08","v":28.8},{"d":"2019-10","v":26.8},{"d":"2019-11","v":16.7},{"d":"2020-01","v":3.2},{"d":"2020-03","v":-3.5},{"d":"2020-05","v":-1.9},{"d":"2020-07","v":9.9},{"d":"2020-09","v":21.7},{"d":"2020-11","v":30.2},{"d":"2020-12","v":36.9},{"d":"2021-02","v":41.9},{"d":"2021-04","v":47},{"d":"2021-06","v":50},{"d":"2021-08","v":49},{"d":"2021-10","v":49.5},{"d":"2021-12","v":51.2},{"d":"2022-01","v":54.1},{"d":"2022-03","v":52.1},{"d":"2022-05","v":48.7},{"d":"2022-07","v":45.3},{"d":"2022-09","v":45},{"d":"2022-11","v":45},{"d":"2023-01","v":45},{"d":"2023-03","v":44},{"d":"2023-04","v":42.8},{"d":"2023-06","v":39.4},{"d":"2023-08","v":35.2},{"d":"2023-10","v":30.2},{"d":"2023-12","v":28.5},{"d":"2024-02","v":26.8},{"d":"2024-04","v":25.4},{"d":"2024-05","v":27.1},{"d":"2024-07","v":30.5},{"d":"2024-09","v":26.8},{"d":"2024-11","v":20.9},{"d":"2025-01","v":24.8},{"d":"2025-03","v":31},{"d":"2025-05","v":33.2},{"d":"2025-06","v":33.2},{"d":"2025-08","v":32.2}]
},
"config":{
"view":{"stroke":null},
"font":"Liberation Sans Narrow, DejaVu Sans Condensed, Roboto Condensed, Liberation Sans, sans-serif",
"title":{"font":"Liberation Sans Narrow, DejaVu Sans Condensed, Roboto Condensed, Liberation Sans, sans-serif","fontSize":22,"fontWeight":"bold","color":"#000000","anchor":"middle","frame":"group","offset":12},
"axis":{"labelFont":"Liberation Sans Narrow, DejaVu Sans Condensed, Roboto Condensed, Liberation Sans, sans-serif","labelFontSize":15,"labelColor":"#1a1a1a","domain":false,"ticks":false,"gridColor":"#D9D9D9","gridWidth":1},
"axisX":{"grid":false,"labelAngle":270,"labelPadding":6,"tickCount":60},
"axisY":{"grid":true,"labelPadding":8,"labelOverlap":false,"tickCount":40,"labelExpr":"datum.value + ''"},
"legend":{"orient":"bottom","direction":"horizontal","symbolType":"stroke","symbolSize":1296,"symbolStrokeWidth":5,"labelFont":"Liberation Sans Narrow, DejaVu Sans Condensed, Roboto Condensed, Liberation Sans, sans-serif","labelFontSize":15,"labelColor":"#1a1a1a","labelLimit":600,"labelOffset":2,"columnPadding":50,"offset":10,"layout":{"bottom":{"anchor":"middle"}}}
},
"columns":4,
"align":"none",
"spacing":{"row":57,"column":0},
"resolve":{"scale":{"color":"independent","x":"independent","y":"independent"},"legend":{"color":"independent"}},
"concat":[
{"width":1,"height":10,"data":{"values":[]},"mark":{"type":"text"},"encoding":{}},
{"width":624,"height":214,"title":"Business situation (monthly, past 3 months)",
"layer":[
{"data":{"values":[{}]},"mark":{"type":"rule","color":"#000000","strokeWidth":1},"encoding":{"y":{"datum":0,"type":"quantitative"}}},
{"data":{"name":"bs"},"mark":{"type":"line","interpolate":"monotone","strokeWidth":4},
"encoding":{
"x":{"field":"d","type":"temporal","title":null,"scale":{"type":"utc","nice":false},"axis":{"format":"%Y","tickCount":60,"values":[{"year":2004,"month":4,"utc":true},{"year":2005,"month":1,"utc":true},{"year":2005,"month":10,"utc":true},{"year":2006,"month":7,"utc":true},{"year":2007,"month":4,"utc":true},{"year":2008,"month":1,"utc":true},{"year":2008,"month":10,"utc":true},{"year":2009,"month":7,"utc":true},{"year":2010,"month":4,"utc":true},{"year":2011,"month":1,"utc":true},{"year":2011,"month":10,"utc":true},{"year":2012,"month":7,"utc":true},{"year":2013,"month":4,"utc":true},{"year":2014,"month":1,"utc":true},{"year":2014,"month":10,"utc":true},{"year":2015,"month":7,"utc":true},{"year":2016,"month":4,"utc":true},{"year":2017,"month":1,"utc":true},{"year":2017,"month":10,"utc":true},{"year":2018,"month":7,"utc":true},{"year":2019,"month":4,"utc":true},{"year":2020,"month":1,"utc":true},{"year":2020,"month":10,"utc":true},{"year":2021,"month":7,"utc":true},{"year":2022,"month":4,"utc":true},{"year":2023,"month":1,"utc":true},{"year":2023,"month":10,"utc":true},{"year":2024,"month":7,"utc":true},{"year":2025,"month":4,"utc":true}]}},
"y":{"field":"v","type":"quantitative","title":null,"scale":{"domain":[-40,80],"nice":false,"zero":false},"axis":{"values":[-40,-20,0,20,40,60,80],"tickCount":40,"labelOverlap":false,"minExtent":72}},
"color":{"datum":"Business situation (past 3 months)","type":"nominal","scale":{"domain":["Business situation (past 3 months)","Mean"],"range":["#3E3EF4","#B39DF7"]},"legend":{"title":null}}}},
{"data":{"name":"means"},"transform":[{"filter":"datum.p == 'bs'"}],"mark":{"type":"rule","strokeWidth":5},"encoding":{"y":{"field":"v","type":"quantitative"},"color":{"field":"s","type":"nominal","legend":{"title":null}}}}
]},
{"width":625,"height":214,"title":"Demand (monthly, past 3 months)",
"layer":[
{"data":{"values":[{}]},"mark":{"type":"rule","color":"#000000","strokeWidth":1},"encoding":{"y":{"datum":0,"type":"quantitative"}}},
{"data":{"name":"dm"},"mark":{"type":"line","interpolate":"monotone","strokeWidth":4},
"encoding":{
"x":{"field":"d","type":"temporal","title":null,"scale":{"type":"utc","nice":false},"axis":{"format":"%Y","tickCount":60,"values":[{"year":2004,"month":4,"utc":true},{"year":2005,"month":1,"utc":true},{"year":2005,"month":10,"utc":true},{"year":2006,"month":7,"utc":true},{"year":2007,"month":4,"utc":true},{"year":2008,"month":1,"utc":true},{"year":2008,"month":10,"utc":true},{"year":2009,"month":7,"utc":true},{"year":2010,"month":4,"utc":true},{"year":2011,"month":1,"utc":true},{"year":2011,"month":10,"utc":true},{"year":2012,"month":7,"utc":true},{"year":2013,"month":4,"utc":true},{"year":2014,"month":1,"utc":true},{"year":2014,"month":10,"utc":true},{"year":2015,"month":7,"utc":true},{"year":2016,"month":4,"utc":true},{"year":2017,"month":1,"utc":true},{"year":2017,"month":10,"utc":true},{"year":2018,"month":7,"utc":true},{"year":2019,"month":4,"utc":true},{"year":2020,"month":1,"utc":true},{"year":2020,"month":10,"utc":true},{"year":2021,"month":7,"utc":true},{"year":2022,"month":4,"utc":true},{"year":2023,"month":1,"utc":true},{"year":2023,"month":10,"utc":true},{"year":2024,"month":7,"utc":true},{"year":2025,"month":4,"utc":true}]}},
"y":{"field":"v","type":"quantitative","title":null,"scale":{"domain":[-60,80],"nice":false,"zero":false},"axis":{"values":[-60,-40,-20,0,20,40,60,80],"tickCount":40,"labelOverlap":false,"minExtent":139}},
"color":{"datum":"Demand (past 3 months)","type":"nominal","scale":{"domain":["Demand (past 3 months)","Mean"],"range":["#3E3EF4","#B39DF7"]},"legend":{"title":null}}}},
{"data":{"name":"means"},"transform":[{"filter":"datum.p == 'dm'"}],"mark":{"type":"rule","strokeWidth":5},"encoding":{"y":{"field":"v","type":"quantitative"},"color":{"field":"s","type":"nominal","legend":{"title":null}}}}
]},
{"width":668,"height":212,"title":"Volume of assignments (monthly, past 3 months)",
"layer":[
{"data":{"values":[{}]},"mark":{"type":"rule","color":"#000000","strokeWidth":1},"encoding":{"y":{"datum":0,"type":"quantitative"}}},
{"data":{"name":"va"},"mark":{"type":"line","interpolate":"monotone","strokeWidth":4},
"encoding":{
"x":{"field":"d","type":"temporal","title":null,"scale":{"type":"utc","nice":false},"axis":{"format":"%Y","tickCount":60,"values":[{"year":2004,"month":5,"utc":true},{"year":2005,"month":1,"utc":true},{"year":2005,"month":9,"utc":true},{"year":2006,"month":5,"utc":true},{"year":2007,"month":1,"utc":true},{"year":2007,"month":9,"utc":true},{"year":2008,"month":5,"utc":true},{"year":2009,"month":1,"utc":true},{"year":2009,"month":9,"utc":true},{"year":2010,"month":5,"utc":true},{"year":2011,"month":1,"utc":true},{"year":2011,"month":9,"utc":true},{"year":2012,"month":5,"utc":true},{"year":2013,"month":1,"utc":true},{"year":2013,"month":9,"utc":true},{"year":2014,"month":5,"utc":true},{"year":2015,"month":1,"utc":true},{"year":2015,"month":9,"utc":true},{"year":2016,"month":5,"utc":true},{"year":2017,"month":1,"utc":true},{"year":2017,"month":9,"utc":true},{"year":2018,"month":5,"utc":true},{"year":2019,"month":1,"utc":true},{"year":2019,"month":9,"utc":true},{"year":2020,"month":5,"utc":true},{"year":2021,"month":1,"utc":true},{"year":2021,"month":9,"utc":true},{"year":2022,"month":5,"utc":true},{"year":2023,"month":1,"utc":true},{"year":2023,"month":9,"utc":true},{"year":2024,"month":5,"utc":true},{"year":2025,"month":1,"utc":true},{"year":2025,"month":9,"utc":true}]}},
"y":{"field":"v","type":"quantitative","title":null,"scale":{"domain":[-60,40],"nice":false,"zero":false},"axis":{"values":[-60,-50,-40,-30,-20,-10,0,10,20,30,40],"tickCount":40,"labelOverlap":false,"minExtent":114}},
"color":{"datum":"Volume of assignments (current situation)","type":"nominal","scale":{"domain":["Volume of assignments (current situation)","Mean"],"range":["#3E3EF4","#B39DF7"]},"legend":{"title":null}}}},
{"data":{"name":"means"},"transform":[{"filter":"datum.p == 'va'"}],"mark":{"type":"rule","strokeWidth":5},"encoding":{"y":{"field":"v","type":"quantitative"},"color":{"field":"s","type":"nominal","legend":{"title":null}}}}
]},
{"width":1,"height":10,"data":{"values":[]},"mark":{"type":"text"},"encoding":{}},
{"width":594,"height":213,"title":"Selling prices (monthly, past 3 months)",
"layer":[
{"data":{"values":[{}]},"mark":{"type":"rule","color":"#000000","strokeWidth":1},"encoding":{"y":{"datum":0,"type":"quantitative"}}},
{"data":{"name":"sp"},"mark":{"type":"line","interpolate":"monotone","strokeWidth":4},
"encoding":{
"x":{"field":"d","type":"temporal","title":null,"scale":{"type":"utc","nice":false},"axis":{"format":"%Y","tickCount":60,"values":[{"year":2004,"month":4,"utc":true},{"year":2005,"month":1,"utc":true},{"year":2005,"month":10,"utc":true},{"year":2006,"month":7,"utc":true},{"year":2007,"month":4,"utc":true},{"year":2008,"month":1,"utc":true},{"year":2008,"month":10,"utc":true},{"year":2009,"month":7,"utc":true},{"year":2010,"month":4,"utc":true},{"year":2011,"month":1,"utc":true},{"year":2011,"month":10,"utc":true},{"year":2012,"month":7,"utc":true},{"year":2013,"month":4,"utc":true},{"year":2014,"month":1,"utc":true},{"year":2014,"month":10,"utc":true},{"year":2015,"month":7,"utc":true},{"year":2016,"month":4,"utc":true},{"year":2017,"month":1,"utc":true},{"year":2017,"month":10,"utc":true},{"year":2018,"month":7,"utc":true},{"year":2019,"month":4,"utc":true},{"year":2020,"month":1,"utc":true},{"year":2020,"month":10,"utc":true},{"year":2021,"month":7,"utc":true},{"year":2022,"month":4,"utc":true},{"year":2023,"month":1,"utc":true},{"year":2023,"month":10,"utc":true},{"year":2024,"month":7,"utc":true},{"year":2025,"month":4,"utc":true}]}},
"y":{"field":"v","type":"quantitative","title":null,"scale":{"domain":[-50,50],"nice":false,"zero":false},"axis":{"values":[-50,-40,-30,-20,-10,0,10,20,30,40,50],"tickCount":40,"labelOverlap":false,"minExtent":88}},
"color":{"datum":"Selling prices (past 3 months)","type":"nominal","scale":{"domain":["Selling prices (past 3 months)","Mean"],"range":["#3E3EF4","#B39DF7"]},"legend":{"title":null}}}},
{"data":{"name":"means"},"transform":[{"filter":"datum.p == 'sp'"}],"mark":{"type":"rule","strokeWidth":5},"encoding":{"y":{"field":"v","type":"quantitative"},"color":{"field":"s","type":"nominal","legend":{"title":null}}}}
]},
{"width":625,"height":213,"title":"Number of employees (monthly, past 3 months)",
"layer":[
{"data":{"values":[{}]},"mark":{"type":"rule","color":"#000000","strokeWidth":1},"encoding":{"y":{"datum":0,"type":"quantitative"}}},
{"data":{"name":"ne"},"mark":{"type":"line","interpolate":"monotone","strokeWidth":4},
"encoding":{
"x":{"field":"d","type":"temporal","title":null,"scale":{"type":"utc","nice":false},"axis":{"format":"%Y","tickCount":60,"values":[{"year":2004,"month":4,"utc":true},{"year":2005,"month":1,"utc":true},{"year":2005,"month":10,"utc":true},{"year":2006,"month":7,"utc":true},{"year":2007,"month":4,"utc":true},{"year":2008,"month":1,"utc":true},{"year":2008,"month":10,"utc":true},{"year":2009,"month":7,"utc":true},{"year":2010,"month":4,"utc":true},{"year":2011,"month":1,"utc":true},{"year":2011,"month":10,"utc":true},{"year":2012,"month":7,"utc":true},{"year":2013,"month":4,"utc":true},{"year":2014,"month":1,"utc":true},{"year":2014,"month":10,"utc":true},{"year":2015,"month":7,"utc":true},{"year":2016,"month":4,"utc":true},{"year":2017,"month":1,"utc":true},{"year":2017,"month":10,"utc":true},{"year":2018,"month":7,"utc":true},{"year":2019,"month":4,"utc":true},{"year":2020,"month":1,"utc":true},{"year":2020,"month":10,"utc":true},{"year":2021,"month":7,"utc":true},{"year":2022,"month":4,"utc":true},{"year":2023,"month":1,"utc":true},{"year":2023,"month":10,"utc":true},{"year":2024,"month":7,"utc":true},{"year":2025,"month":4,"utc":true}]}},
"y":{"field":"v","type":"quantitative","title":null,"scale":{"domain":[-60,60],"nice":false,"zero":false},"axis":{"values":[-60,-40,-20,0,20,40,60],"tickCount":40,"labelOverlap":false,"minExtent":116}},
"color":{"datum":"Number of employees (past 3 months)","type":"nominal","scale":{"domain":["Number of employees (past 3 months)","Mean"],"range":["#3E3EF4","#B39DF7"]},"legend":{"title":null}}}},
{"data":{"name":"means"},"transform":[{"filter":"datum.p == 'ne'"}],"mark":{"type":"rule","strokeWidth":5},"encoding":{"y":{"field":"v","type":"quantitative"},"color":{"field":"s","type":"nominal","legend":{"title":null}}}}
]},
{"width":635,"height":213,"title":"Demand (next 3 months)",
"layer":[
{"data":{"values":[{}]},"mark":{"type":"rule","color":"#000000","strokeWidth":1},"encoding":{"y":{"datum":0,"type":"quantitative"}}},
{"data":{"name":"dn"},"mark":{"type":"line","interpolate":"monotone","strokeWidth":4},
"encoding":{
"x":{"field":"d","type":"temporal","title":null,"scale":{"type":"utc","nice":false},"axis":{"format":"%Y","tickCount":60,"values":[{"year":2004,"month":4,"utc":true},{"year":2005,"month":1,"utc":true},{"year":2005,"month":10,"utc":true},{"year":2006,"month":7,"utc":true},{"year":2007,"month":4,"utc":true},{"year":2008,"month":1,"utc":true},{"year":2008,"month":10,"utc":true},{"year":2009,"month":7,"utc":true},{"year":2010,"month":4,"utc":true},{"year":2011,"month":1,"utc":true},{"year":2011,"month":10,"utc":true},{"year":2012,"month":7,"utc":true},{"year":2013,"month":4,"utc":true},{"year":2014,"month":1,"utc":true},{"year":2014,"month":10,"utc":true},{"year":2015,"month":7,"utc":true},{"year":2016,"month":4,"utc":true},{"year":2017,"month":1,"utc":true},{"year":2017,"month":10,"utc":true},{"year":2018,"month":7,"utc":true},{"year":2019,"month":4,"utc":true},{"year":2020,"month":1,"utc":true},{"year":2020,"month":10,"utc":true},{"year":2021,"month":7,"utc":true},{"year":2022,"month":4,"utc":true},{"year":2023,"month":1,"utc":true},{"year":2023,"month":10,"utc":true},{"year":2024,"month":7,"utc":true},{"year":2025,"month":4,"utc":true}]}},
"y":{"field":"v","type":"quantitative","title":null,"scale":{"domain":[-20,80],"nice":false,"zero":false},"axis":{"values":[-20,-10,0,10,20,30,40,50,60,70,80],"tickCount":40,"labelOverlap":false,"minExtent":113}},
"color":{"datum":"Demand (next 3 months)","type":"nominal","scale":{"domain":["Demand (next 3 months)","Mean"],"range":["#3E3EF4","#B39DF7"]},"legend":{"title":null}}}},
{"data":{"name":"means"},"transform":[{"filter":"datum.p == 'dn'"}],"mark":{"type":"rule","strokeWidth":5},"encoding":{"y":{"field":"v","type":"quantitative"},"color":{"field":"s","type":"nominal","legend":{"title":null}}}}
]},
{"width":1,"height":10,"data":{"values":[]},"mark":{"type":"text"},"encoding":{}},
{"width":628,"height":220,"title":"Selling prices (next 3 months)",
"layer":[
{"data":{"values":[{}]},"mark":{"type":"rule","color":"#000000","strokeWidth":1},"encoding":{"y":{"datum":0,"type":"quantitative"}}},
{"data":{"name":"spn"},"mark":{"type":"line","interpolate":"monotone","strokeWidth":4},
"encoding":{
"x":{"field":"d","type":"temporal","title":null,"scale":{"type":"utc","nice":false},"axis":{"format":"%Y","tickCount":60,"values":[{"year":2004,"month":4,"utc":true},{"year":2005,"month":1,"utc":true},{"year":2005,"month":10,"utc":true},{"year":2006,"month":7,"utc":true},{"year":2007,"month":4,"utc":true},{"year":2008,"month":1,"utc":true},{"year":2008,"month":10,"utc":true},{"year":2009,"month":7,"utc":true},{"year":2010,"month":4,"utc":true},{"year":2011,"month":1,"utc":true},{"year":2011,"month":10,"utc":true},{"year":2012,"month":7,"utc":true},{"year":2013,"month":4,"utc":true},{"year":2014,"month":1,"utc":true},{"year":2014,"month":10,"utc":true},{"year":2015,"month":7,"utc":true},{"year":2016,"month":4,"utc":true},{"year":2017,"month":1,"utc":true},{"year":2017,"month":10,"utc":true},{"year":2018,"month":7,"utc":true},{"year":2019,"month":4,"utc":true},{"year":2020,"month":1,"utc":true},{"year":2020,"month":10,"utc":true},{"year":2021,"month":7,"utc":true},{"year":2022,"month":4,"utc":true},{"year":2023,"month":1,"utc":true},{"year":2023,"month":10,"utc":true},{"year":2024,"month":7,"utc":true},{"year":2025,"month":4,"utc":true}]}},
"y":{"field":"v","type":"quantitative","title":null,"scale":{"domain":[-30,50],"nice":false,"zero":false},"axis":{"values":[-30,-20,-10,0,10,20,30,40,50],"tickCount":40,"labelOverlap":false,"minExtent":38}},
"color":{"datum":"Selling prices (next 3 months)","type":"nominal","scale":{"domain":["Selling prices (next 3 months)","Mean"],"range":["#3E3EF4","#B39DF7"]},"legend":{"title":null}}}},
{"data":{"name":"means"},"transform":[{"filter":"datum.p == 'spn'"}],"mark":{"type":"rule","strokeWidth":5},"encoding":{"y":{"field":"v","type":"quantitative"},"color":{"field":"s","type":"nominal","legend":{"title":null}}}}
]},
{"width":625,"height":220,"title":"Number of employees (next 3 months)",
"layer":[
{"data":{"values":[{}]},"mark":{"type":"rule","color":"#000000","strokeWidth":1},"encoding":{"y":{"datum":0,"type":"quantitative"}}},
{"data":{"name":"nen"},"mark":{"type":"line","interpolate":"monotone","strokeWidth":4},
"encoding":{
"x":{"field":"d","type":"temporal","title":null,"scale":{"type":"utc","nice":false},"axis":{"format":"%Y","tickCount":60,"values":[{"year":2004,"month":4,"utc":true},{"year":2005,"month":1,"utc":true},{"year":2005,"month":10,"utc":true},{"year":2006,"month":7,"utc":true},{"year":2007,"month":4,"utc":true},{"year":2008,"month":1,"utc":true},{"year":2008,"month":10,"utc":true},{"year":2009,"month":7,"utc":true},{"year":2010,"month":4,"utc":true},{"year":2011,"month":1,"utc":true},{"year":2011,"month":10,"utc":true},{"year":2012,"month":7,"utc":true},{"year":2013,"month":4,"utc":true},{"year":2014,"month":1,"utc":true},{"year":2014,"month":10,"utc":true},{"year":2015,"month":7,"utc":true},{"year":2016,"month":4,"utc":true},{"year":2017,"month":1,"utc":true},{"year":2017,"month":10,"utc":true},{"year":2018,"month":7,"utc":true},{"year":2019,"month":4,"utc":true},{"year":2020,"month":1,"utc":true},{"year":2020,"month":10,"utc":true},{"year":2021,"month":7,"utc":true},{"year":2022,"month":4,"utc":true},{"year":2023,"month":1,"utc":true},{"year":2023,"month":10,"utc":true},{"year":2024,"month":7,"utc":true},{"year":2025,"month":4,"utc":true}]}},
"y":{"field":"v","type":"quantitative","title":null,"scale":{"domain":[-40,70],"nice":false,"zero":false},"axis":{"values":[-40,-30,-20,-10,0,10,20,30,40,50,60,70],"tickCount":40,"labelOverlap":false,"minExtent":174}},
"color":{"datum":"Number of employees (next 3 months)","type":"nominal","scale":{"domain":["Number of employees (next 3 months)","Mean"],"range":["#3E3EF4","#B39DF7"]},"legend":{"title":null}}}},
{"data":{"name":"means"},"transform":[{"filter":"datum.p == 'nen'"}],"mark":{"type":"rule","strokeWidth":5},"encoding":{"y":{"field":"v","type":"quantitative"},"color":{"field":"s","type":"nominal","legend":{"title":null}}}}
]},
{"width":380,"height":200,
"title":{"text":"Lähde: Konjunktur Institute, Inderes","anchor":"start","frame":"group","dx":66,"font":"Lato, Open Sans, sans-serif","fontSize":19,"fontWeight":"bold","color":"#000000"},
"data":{"values":[]},"mark":{"type":"text"},"encoding":{}}
]
}
